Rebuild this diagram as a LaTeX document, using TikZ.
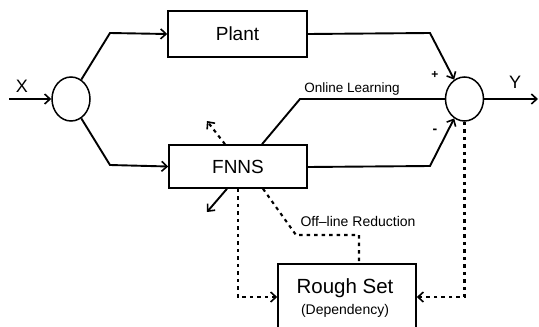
\documentclass[tikz,border=0pt]{standalone}
\usepackage{fontspec}
\setmainfont{Liberation Sans}
\usetikzlibrary{arrows.meta,shapes.geometric,calc}
\tikzset{
  line/.style={line width=1.9pt},
  tip/.style={-{Straight Barb[length=5.5pt,width=10pt,line width=1.6pt]}},
  dotline/.style={line width=2.1pt,dash pattern=on 3.5pt off 4pt},
  block/.style={draw,line width=1.5pt,rectangle,inner sep=0pt},
  junction/.style={draw,line width=1.5pt,ellipse,minimum width=38pt,minimum height=44pt,inner sep=0pt},
  lbl/.style={inner sep=0pt},
}
\begin{document}
\begin{tikzpicture}[x=1pt,y=-1pt]
\useasboundingbox (0,0) rectangle (539,327);

% blocks
\node[block,minimum width=139pt,minimum height=46pt] (plant) at (237.5,34) {\fontsize{19}{20}\selectfont Plant};
\node[block,minimum width=138pt,minimum height=43pt] (fnns) at (238,166.5) {\fontsize{19}{20}\selectfont FNNS};
\node[block,minimum width=138pt,minimum height=66pt] (rough) at (347,297) {};
\node[lbl] (roughtxt) at (345,288) {\fontsize{20.5}{22}\selectfont Rough Set};
\node[lbl] (deptxt) at (345,311) {\fontsize{14}{15}\selectfont (Dependency)};

% junctions
\node[junction] (cl) at (71,99) {};
\node[junction] (cr) at (464.5,99) {};

% signal labels
\node[lbl] (xl) at (22,86) {\fontsize{18}{19}\selectfont X};
\node[lbl] (yl) at (515,82) {\fontsize{18}{19}\selectfont Y};
\node[lbl] (plus) at (435,75) {\fontsize{12}{12}\selectfont\bfseries +};
\node[lbl] (minus) at (435,131) {\fontsize{14}{12}\selectfont\bfseries -};
\node[lbl] (ollbl) at (352,89) {\fontsize{13.5}{15}\selectfont Online Learning};
\node[lbl] (offlbl) at (358,221) {\fontsize{14}{15}\selectfont Off--line Reduction};

% free ends
\coordinate (xin) at (9,99);
\coordinate (yout) at (538,99);
\coordinate (ua) at (110,33);
\coordinate (la) at (110,165);
\coordinate (ub) at (430,33);
\coordinate (lb) at (430,166);
\coordinate (olk) at (300,99);
\coordinate (offk) at (296,235);
\coordinate (offh) at (359,235);
\coordinate (adjlo) at (207,212);
\coordinate (adjhi) at (207,121);

% forward paths
\draw[line,tip] (xin) -- (cl.west);
\draw[line,tip] (cl.62) -- (ua) -- (plant.west);
\draw[line,tip] (cl.-62) -- (la) -- (fnns.west);
\draw[line,tip] (plant.east) -- (ub) -- (cr.118);
\draw[line,tip] ([yshift=-0.5]fnns.east) -- (lb) -- (cr.242);
\draw[line,tip] (cr.east) -- (yout);

% online learning
\draw[line] ([xshift=24]fnns.north) -- (olk) -- (cr.west);

% adjustment arrow through FNNS
\draw[line,tip] ([xshift=-11]fnns.south) -- (adjlo);
\draw[dotline,tip] ([xshift=-13]fnns.north) -- (adjhi);

% rough set links
\draw[dotline,tip] (fnns.south) |- (rough.west);
\draw[dotline,tip] (cr.south) |- (rough.east);
\draw[dotline] ([xshift=25]fnns.south) -- (offk) -- (offh) -- ([xshift=12]rough.north);
\end{tikzpicture}
\end{document}
